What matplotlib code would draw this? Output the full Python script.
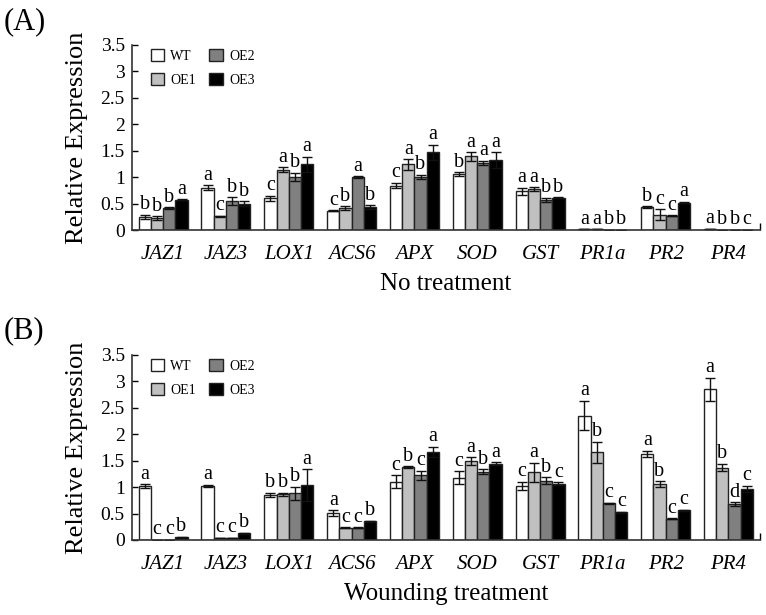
import matplotlib
matplotlib.use("Agg")
import matplotlib.pyplot as plt
import numpy as np
from matplotlib.patches import Patch

plt.rcParams['font.family'] = ['Liberation Serif', 'DejaVu Serif']

genes = ['JAZ1', 'JAZ3', 'LOX1', 'ACS6', 'APX', 'SOD', 'GST', 'PR1a', 'PR2', 'PR4']
lines = ['WT', 'OE1', 'OE2', 'OE3']
colors = ['#ffffff', '#c0c0c0', '#808080', '#000000']

# Panel A: No treatment
a_wt  = [0.25, 0.80, 0.60, 0.36, 0.84, 1.06, 0.73, 0.01, 0.43, 0.02]
a_oe1 = [0.22, 0.26, 1.14, 0.41, 1.24, 1.39, 0.77, 0.01, 0.29, 0.00]
a_oe2 = [0.41, 0.55, 1.00, 1.00, 1.00, 1.27, 0.57, 0.00, 0.27, 0.00]
a_oe3 = [0.57, 0.50, 1.24, 0.43, 1.47, 1.32, 0.61, 0.00, 0.52, 0.00]
a_wt_err  = [0.04, 0.05, 0.05, 0.01, 0.05, 0.03, 0.07, 0.00, 0.02, 0.00]
a_oe1_err = [0.04, 0.01, 0.05, 0.04, 0.10, 0.08, 0.04, 0.00, 0.10, 0.00]
a_oe2_err = [0.02, 0.07, 0.08, 0.02, 0.04, 0.04, 0.04, 0.00, 0.01, 0.00]
a_oe3_err = [0.01, 0.04, 0.14, 0.04, 0.14, 0.15, 0.01, 0.00, 0.01, 0.00]
a_letters = [['b', 'b', 'b', 'a'], ['a', 'c', 'b', 'b'], ['c', 'a', 'b', 'a'],
             ['c', 'b', 'a', 'b'], ['c', 'a', 'b', 'a'], ['b', 'a', 'a', 'a'],
             ['a', 'a', 'b', 'b'], ['a', 'a', 'b', 'b'], ['b', 'c', 'c', 'a'],
             ['a', 'b', 'b', 'c']]

# Panel B: Wounding treatment
b_wt  = [1.02, 1.02, 0.85, 0.51, 1.10, 1.18, 1.02, 2.35, 1.63, 2.85]
b_oe1 = [0.00, 0.04, 0.86, 0.23, 1.38, 1.49, 1.28, 1.66, 1.06, 1.37]
b_oe2 = [0.00, 0.04, 0.88, 0.23, 1.22, 1.29, 1.12, 0.69, 0.40, 0.68]
b_oe3 = [0.05, 0.13, 1.04, 0.35, 1.66, 1.44, 1.06, 0.52, 0.56, 0.96]
b_wt_err  = [0.03, 0.02, 0.04, 0.05, 0.12, 0.12, 0.08, 0.28, 0.06, 0.22]
b_oe1_err = [0.00, 0.00, 0.03, 0.01, 0.01, 0.07, 0.18, 0.20, 0.05, 0.07]
b_oe2_err = [0.00, 0.00, 0.13, 0.01, 0.09, 0.05, 0.07, 0.01, 0.01, 0.03]
b_oe3_err = [0.01, 0.01, 0.30, 0.01, 0.10, 0.03, 0.03, 0.01, 0.01, 0.06]
b_letters = [['a', 'c', 'c', 'b'], ['a', 'c', 'c', 'b'], ['b', 'b', 'b', 'a'],
             ['a', 'c', 'c', 'b'], ['c', 'b', 'c', 'a'], ['c', 'a', 'b', 'a'],
             ['c', 'a', 'b', 'c'], ['a', 'b', 'c', 'c'], ['a', 'b', 'c', 'c'],
             ['a', 'b', 'd', 'c']]

fig = plt.figure(figsize=(7.66, 6.15), dpi=100)
axA = fig.add_axes([0.172, 0.626, 0.820, 0.301])
axB = fig.add_axes([0.172, 0.122, 0.820, 0.301])

width = 0.195
offsets = [-1.5 * width, -0.5 * width, 0.5 * width, 1.5 * width]
x = np.arange(len(genes))


def draw(ax, series, errs, letters, xlabel):
    for k, (vals, err) in enumerate(zip(series, errs)):
        ax.bar(x + offsets[k], vals, width, color=colors[k], edgecolor='#222222',
               linewidth=1.0, yerr=err, capsize=3.5,
               error_kw=dict(elinewidth=1.0, capthick=1.0, ecolor='#111111'),
               label=lines[k], zorder=2)
        for i in range(len(genes)):
            ax.text(x[i] + offsets[k], vals[i] + err[i] + 0.01, letters[i][k],
                    ha='center', va='bottom', fontsize=14.5)
    ax.set_xlim(-0.5, len(genes) - 0.5)
    ax.set_ylim(0, 3.5)
    ax.set_yticks(np.arange(0, 3.51, 0.5))
    ax.set_yticklabels(['0', '0.5', '1', '1.5', '2', '2.5', '3', '3.5'], fontsize=14)
    ax.set_xticks(x)
    ax.set_xticklabels(genes, fontsize=15, style='italic')
    ax.tick_params(axis='x', length=0, pad=11)
    ax.tick_params(axis='y', direction='in', length=4, width=1, pad=5)
    ax.set_xticks([len(genes) - 0.5], minor=True)
    ax.tick_params(axis='x', which='minor', direction='in', length=5, width=1)
    for s in ['top', 'right']:
        ax.spines[s].set_visible(False)
    for s in ['left', 'bottom']:
        ax.spines[s].set_linewidth(1.2)
        ax.spines[s].set_color('#333333')
    ax.set_ylabel('Relative Expression', fontsize=19, labelpad=9)
    ax.set_xlabel(xlabel, fontsize=18, labelpad=6)
    handles = [Patch(facecolor=colors[k], edgecolor='#222222', linewidth=1.0, label=lines[k])
               for k in range(4)]
    ax.legend(handles=handles, ncol=2, loc='upper left', bbox_to_anchor=(0.01, 1.045),
              frameon=False, fontsize=10, handlelength=1.0, handleheight=1.0,
              handletextpad=0.4, columnspacing=1.0, labelspacing=0.7)


draw(axA, [a_wt, a_oe1, a_oe2, a_oe3], [a_wt_err, a_oe1_err, a_oe2_err, a_oe3_err],
     a_letters, 'No treatment')
draw(axB, [b_wt, b_oe1, b_oe2, b_oe3], [b_wt_err, b_oe1_err, b_oe2_err, b_oe3_err],
     b_letters, 'Wounding treatment')

fig.text(0.005, 0.965, '(A)', fontsize=22, ha='left', va='center')
fig.text(0.005, 0.462, '(B)', fontsize=22, ha='left', va='center')

fig.savefig('out.png', dpi=100)
